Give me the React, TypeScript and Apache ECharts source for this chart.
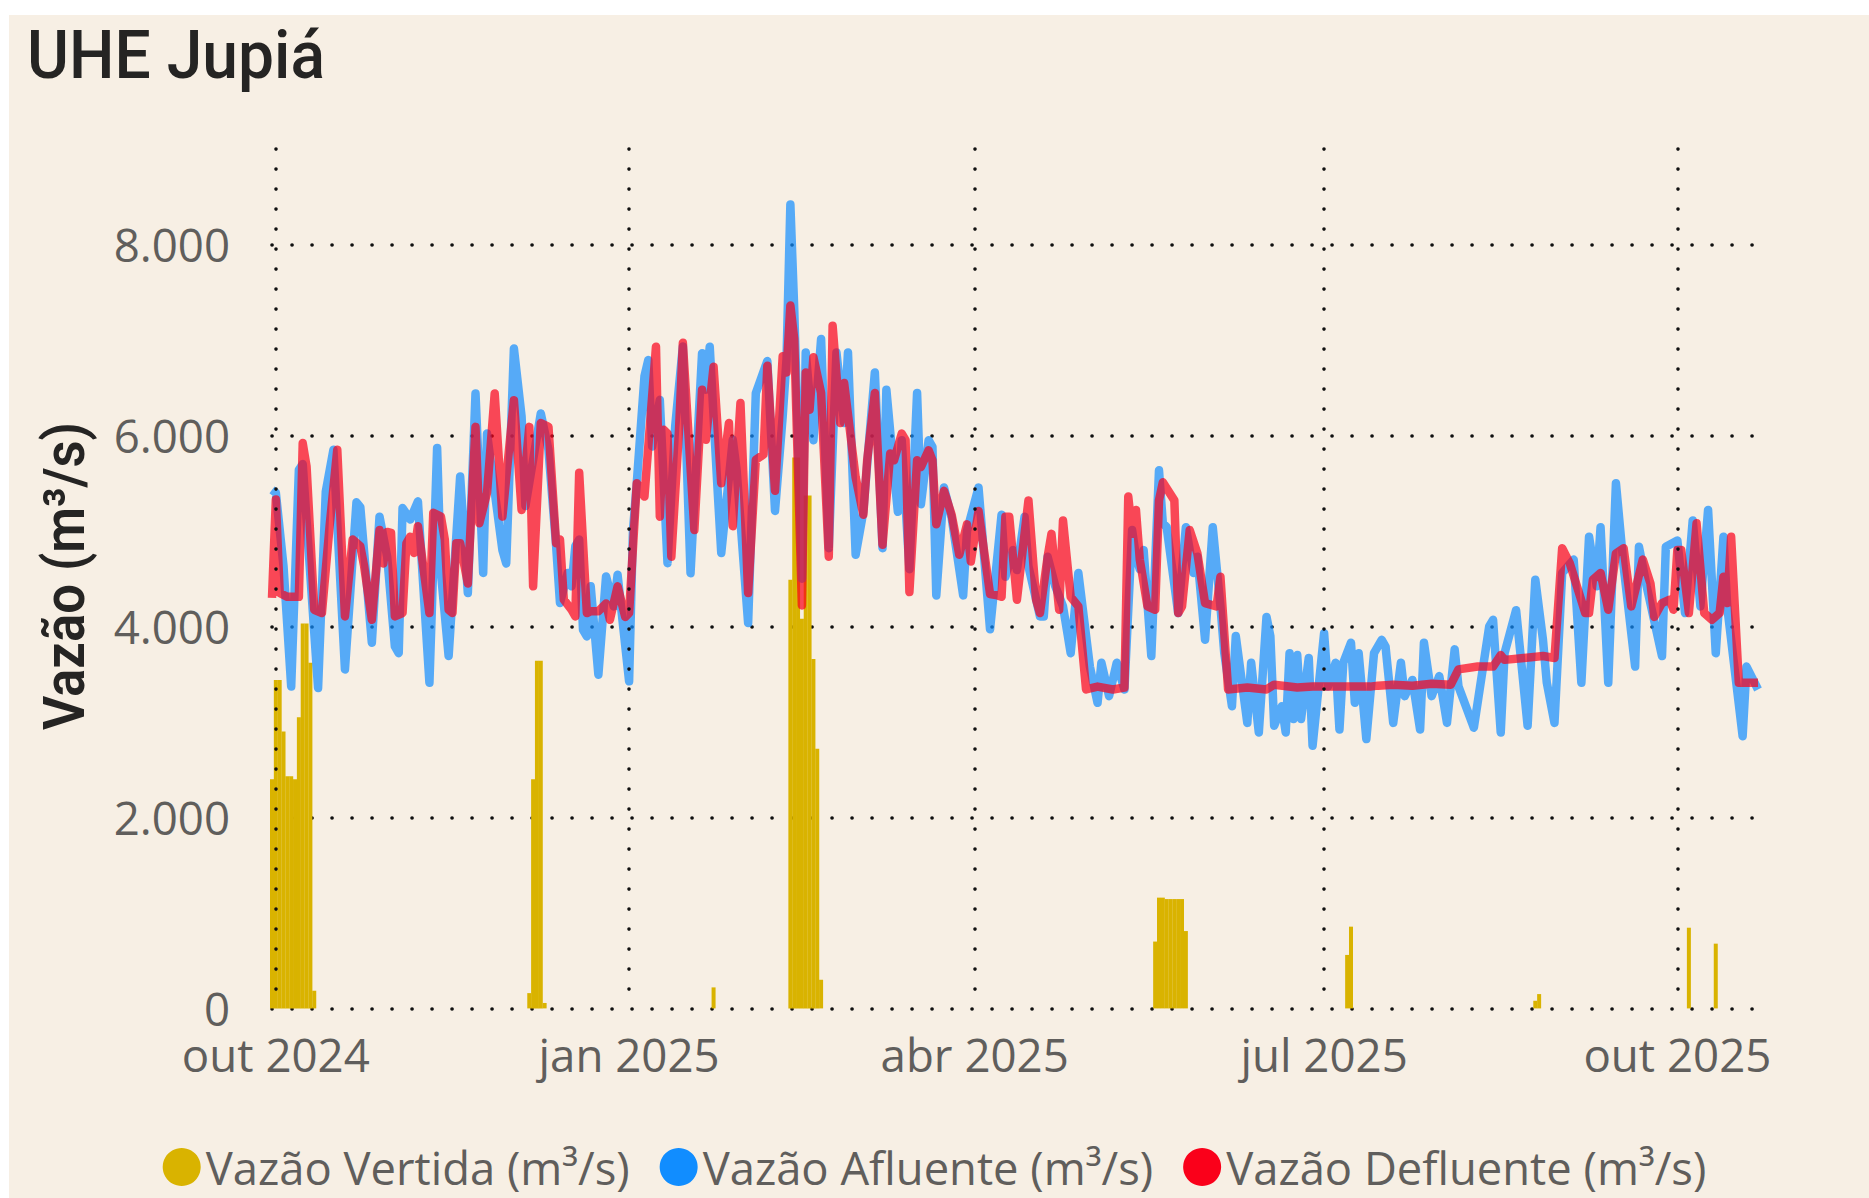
import React, { useEffect, useRef } from 'react';
import * as echarts from 'echarts';

// Day offsets are counted from 2024-10-01 (day 0); -1 is 2024-09-30.
const afluente: [number, number][] = [
  [-1, 5430], [0, 5400], [2, 4630], [4, 3370], [6, 5640], [7, 5700], [11, 3355], [13, 5410], [15, 5850], [18, 3550],
  [21, 5300], [22, 5250], [25, 3830], [27, 5150], [29, 4730], [31, 3790], [32, 3720], [33, 5240], [35, 5120], [37, 5310],
  [40, 3410], [42, 5870], [43, 4560], [45, 3690], [48, 5570], [50, 4350], [52, 6440], [54, 4560], [55, 6020], [59, 4800],
  [60, 4660], [62, 6910], [64, 6200], [65, 5260], [69, 6230], [71, 5850], [73, 4840], [74, 4245], [76, 4560], [77, 4420],
  [78, 4840], [79, 4910], [80, 3965], [81, 3896], [82, 4420], [84, 3495], [86, 4524], [88, 4210], [89, 4541], [92, 3425],
  [93, 5000], [94, 5500], [96, 6620], [97, 6790], [98, 5885], [100, 6373], [102, 4663], [104, 6094], [106, 6932], [108, 4558],
  [111, 6860], [112, 6480], [113, 6930], [115, 5466], [116, 4768], [119, 5955], [120, 5640], [123, 4035], [125, 6443],
  [128, 6780], [130, 5210], [132, 6200], [133, 6800], [134, 8420], [135, 7330], [137, 4500], [138, 6870], [140, 5950],
  [142, 7010], [144, 4820], [146, 6870], [148, 6130], [149, 6870], [151, 4750], [153, 5200], [154, 5700], [156, 6660],
  [158, 4820], [159, 6480], [161, 5600], [162, 5200], [163, 5950], [165, 4600], [167, 6445], [168, 5280], [170, 5950],
  [171, 5880], [172, 4325], [174, 5455], [176, 5140], [179, 4325], [180, 5000], [183, 5455], [186, 3970], [189, 5170],
  [190, 4520], [192, 4800], [193, 4590], [195, 5150], [196, 4630], [199, 4105], [200, 4105], [201, 4730], [203, 4420],
  [205, 4210], [207, 3720], [209, 4560], [212, 3580], [214, 3200], [215, 3620], [217, 3270], [219, 3620], [221, 3340],
  [223, 5010], [224, 4730], [225, 4600], [226, 4800], [228, 3690], [230, 5635], [231, 5080], [232, 5040], [235, 4140],
  [237, 5040], [239, 4560], [240, 4730], [242, 3860], [244, 5040], [246, 4210], [247, 3720], [249, 3165], [250, 3900],
  [253, 2990], [254, 3620], [256, 2890], [258, 4100], [259, 3900], [260, 2960], [262, 3165], [263, 2890], [264, 3720],
  [265, 3030], [266, 3700], [267, 3030], [269, 3670], [270, 2750], [273, 3930], [274, 3370], [276, 3620], [277, 2920],
  [278, 3620], [280, 3830], [281, 3200], [282, 3720], [284, 2820], [286, 3720], [288, 3860], [289, 3790], [291, 2990],
  [293, 3620], [294, 3270], [296, 3440], [298, 2920], [299, 3830], [301, 3270], [303, 3480], [305, 2990], [307, 3760],
  [308, 3370], [312, 2940], [316, 4000], [317, 4070], [319, 2890], [320, 3720], [323, 4170], [326, 2960], [328, 4490],
  [330, 3860], [331, 3410], [333, 2990], [335, 4560], [338, 4700], [340, 3410], [342, 4940], [344, 4420], [345, 5040],
  [347, 3410], [349, 5500], [351, 4630], [354, 3580], [355, 4835], [357, 4420], [361, 3690], [362, 4835], [365, 4900],
  [367, 4140], [369, 5110], [371, 4210], [373, 5220], [375, 3720], [377, 4940], [378, 4200], [382, 2850], [383, 3580],
  [386, 3340],
];

const defluente: [number, number][] = [
  [-1, 4300], [0, 5330], [1, 4350], [3, 4310], [6, 4310], [7, 5920], [8, 5675], [10, 4175], [12, 4140], [14, 5050],
  [16, 5850], [18, 4105], [20, 4910], [22, 4840], [23, 4630], [25, 4070], [27, 5010], [28, 4660], [29, 4990], [30, 4980],
  [31, 4105], [33, 4140], [34, 4870], [35, 4940], [36, 4770], [37, 5050], [40, 4140], [41, 5190], [43, 5150], [44, 4910],
  [45, 4175], [46, 4140], [47, 4870], [48, 4870], [50, 4450], [52, 6090], [53, 5080], [55, 5400], [57, 6440], [59, 5150],
  [62, 6370], [64, 5220], [66, 6090], [67, 4420], [69, 6130], [71, 6090], [73, 4870], [74, 4910], [75, 4280], [77, 4175],
  [78, 4105], [79, 5610], [81, 4140], [82, 4160], [84, 4160], [86, 4240], [87, 4070], [89, 4420], [91, 4100], [92, 4140],
  [94, 5500], [96, 5360], [99, 6930], [100, 5150], [101, 6060], [102, 6020], [103, 4730], [105, 6060], [106, 6970],
  [109, 5010], [111, 6480], [112, 5955], [114, 6720], [116, 5500], [118, 6130], [119, 5050], [121, 6340], [123, 4350],
  [125, 5745], [127, 5800], [128, 6730], [130, 5420], [132, 6830], [133, 6660], [134, 7360], [135, 7010], [137, 4220],
  [138, 6660], [139, 6270], [140, 6820], [142, 6445], [144, 4730], [145, 7150], [147, 6130], [148, 6550], [151, 5560],
  [153, 5170], [154, 5740], [156, 6445], [158, 4855], [160, 5810], [161, 5740], [163, 6020], [164, 5950], [165, 4360],
  [167, 5740], [168, 5670], [170, 5845], [171, 5740], [172, 5070], [174, 5420], [176, 5170], [178, 4750], [180, 5070],
  [181, 4680], [183, 5210], [186, 4340], [188, 4325], [189, 4310], [190, 5150], [191, 5150], [193, 4280], [196, 5320],
  [198, 4280], [199, 4140], [201, 4730], [202, 4970], [204, 4175], [205, 5110], [207, 4310], [209, 4210], [211, 3340],
  [214, 3370], [218, 3340], [221, 3360], [222, 5360], [223, 4970], [224, 5220], [225, 4700], [227, 4210], [229, 4175],
  [230, 5320], [231, 5510], [234, 5320], [235, 4140], [236, 4210], [238, 5010], [240, 4765], [242, 4245], [245, 4210],
  [246, 4520], [248, 3340], [253, 3360], [258, 3340], [260, 3390], [266, 3360], [270, 3370], [285, 3370], [287, 3380],
  [291, 3390], [296, 3380], [301, 3400], [306, 3390], [308, 3550], [313, 3580], [317, 3580], [319, 3700], [320, 3650],
  [325, 3670], [330, 3690], [333, 3670], [335, 4820], [337, 4660], [341, 4140], [342, 4140], [343, 4490], [345, 4560],
  [347, 4175], [349, 4765], [351, 4820], [353, 4210], [356, 4700], [358, 4450], [359, 4100], [361, 4245], [363, 4280],
  [364, 4175], [365, 4800], [366, 4800], [368, 4140], [370, 5080], [372, 4140], [374, 4070], [376, 4140], [377, 4520],
  [378, 4245], [379, 4940], [381, 3410], [386, 3410],
];

const vertida: [number, number][] = [
  [-1, 2400], [0, 3440], [1, 3440], [2, 2900], [3, 2430], [4, 2430], [5, 2400], [6, 3050], [7, 4030], [8, 4030], [9, 3620], [10, 185],
  [66, 160], [67, 2400], [68, 3640], [69, 3640], [70, 57],
  [114, 220],
  [134, 4490], [135, 5770], [136, 5770], [137, 4080], [138, 5370], [139, 5370], [140, 3660], [141, 2720], [142, 300],
  [229, 700], [230, 1160], [231, 1160], [232, 1145], [233, 1145], [234, 1145], [235, 1145], [236, 1145], [237, 810],
  [279, 560], [280, 856],
  [328, 80], [329, 150],
  [368, 845], [375, 678],
];

// Quarter ticks as day offsets from 2024-10-01, with their labels.
const quarterDays = [0, 92, 182, 273, 365];
const quarterLabels = ['out 2024', 'jan 2025', 'abr 2025', 'jul 2025', 'out 2025'];
const firstDay = -1;
const lastDay = 386;
const yMax = 9000;

const fmtThousands = (v: number) => String(Math.round(v)).replace(/\B(?=(\d{3})+(?!\d))/g, '.');

const LABEL_FONT = '"Open Sans", "Noto Sans", sans-serif';
const TITLE_FONT = 'Roboto, "Noto Sans", sans-serif';

function measure(text: string, font: string) {
  const ctx = document.createElement('canvas').getContext('2d');
  if (!ctx) return 0;
  ctx.font = font;
  return ctx.measureText(text).width;
}

function fitSize(text: string, weight: number, family: string, base: number, target: number) {
  const w = measure(text, `${weight} ${base}px ${family}`);
  if (!w) return base;
  const s = (base * target) / w;
  return Math.max(base * 0.8, Math.min(base * 1.2, s));
}

export default function App() {
  const ref = useRef<HTMLDivElement>(null);

  useEffect(() => {
    if (!ref.current) return;
    const chart = echarts.init(ref.current, undefined, { renderer: 'svg' });
    const dotted = { color: '#111', width: 3.6, type: [0.1, 19.9] as number[], cap: 'round' as const };

    const titleText = 'UHE Jupiá';
    const titleW = measure(titleText, `500 66px Roboto`);
    const titleScale = titleW ? 298 / titleW : 1;
    const yTitle = 'Vazão (m³/s)';
    const yTitleW = measure(yTitle, `600 58px Roboto`);
    const yTitleScale = yTitleW ? 308 / yTitleW : 1;

    const labelSize = fitSize('out 2024', 400, LABEL_FONT, 45, 188);
    const legendSize = fitSize('Vazão Vertida (m³/s)', 400, LABEL_FONT, 46, 424);

    chart.setOption({
      animation: false,
      backgroundColor: 'transparent',
      grid: { left: 272, right: 111, top: 149, bottom: 189.6, containLabel: false },
      legend: {
        left: 'center',
        top: 1140,
        padding: 4,
        icon: 'circle',
        itemWidth: 38,
        itemHeight: 38,
        itemGap: 30,
        textStyle: { fontSize: legendSize, lineHeight: 46, color: '#605E5C', fontFamily: LABEL_FONT, fontWeight: 400 },
        data: ['Vazão Vertida (m³/s)', 'Vazão Afluente (m³/s)', 'Vazão Defluente (m³/s)'],
      },
      xAxis: {
        type: 'value',
        min: firstDay,
        max: lastDay,
        axisLine: { show: false },
        axisTick: { show: false, customValues: quarterDays },
        splitLine: { show: false },
        axisLabel: {
          customValues: quarterDays,
          formatter: (v: number) => {
            const i = quarterDays.indexOf(Math.round(v));
            return i >= 0 ? quarterLabels[i] : '';
          },
          fontSize: labelSize,
          color: '#605E5C',
          fontFamily: LABEL_FONT,
          fontWeight: 400,
          margin: 26,
          lineHeight: 40,
          showMinLabel: true,
          showMaxLabel: true,
        },
      },
      yAxis: {
        type: 'value',
        min: 0,
        max: yMax,
        interval: 2000,
        axisLine: { show: false },
        axisTick: { show: false },
        axisLabel: {
          showMaxLabel: false,
          formatter: (v: number) => fmtThousands(v),
          fontSize: labelSize,
          color: '#605E5C',
          fontFamily: LABEL_FONT,
          fontWeight: 400,
          margin: 42,
          lineHeight: 40,
        },
        splitLine: { show: true, showMaxLine: false, lineStyle: dotted },
      },
      graphic: [
        {
          type: 'text',
          x: 27,
          y: 56,
          scaleX: titleScale,
          style: {
            text: titleText,
            fontSize: 66,
            fontWeight: 500,
            fontFamily: TITLE_FONT,
            fill: '#252423',
            align: 'left',
            verticalAlign: 'middle',
          },
        },
        {
          type: 'text',
          x: 65,
          y: 576,
          rotation: Math.PI / 2,
          scaleX: yTitleScale,
          style: {
            text: yTitle,
            fontSize: 58,
            fontWeight: 600,
            fontFamily: TITLE_FONT,
            fill: '#252423',
            align: 'center',
            verticalAlign: 'middle',
          },
        },
      ],
      series: [
        {
          name: 'Vazão Vertida (m³/s)',
          type: 'bar',
          barWidth: 4,
          clip: false,
          itemStyle: { color: '#D9B300' },
          data: vertida,
          markLine: {
            silent: true,
            symbol: 'none',
            label: { show: false },
            lineStyle: dotted,
            emphasis: { disabled: true },
            data: quarterDays.map((d) => [{ coord: [d, yMax] }, { coord: [d, 0] }]),
          },
        },
        {
          name: 'Vazão Afluente (m³/s)',
          type: 'line',
          showSymbol: false,
          symbol: 'none',
          itemStyle: { color: '#118DFF' },
          lineStyle: { color: '#118DFF', width: 8.5, opacity: 0.7, join: 'round' },
          data: afluente,
        },
        {
          name: 'Vazão Defluente (m³/s)',
          type: 'line',
          showSymbol: false,
          symbol: 'none',
          itemStyle: { color: '#FA001A' },
          lineStyle: { color: '#FA001A', width: 8.5, opacity: 0.7, join: 'round' },
          data: defluente,
        },
      ],
    });
    return () => chart.dispose();
  }, []);

  return (
    <div style={{ position: 'fixed', left: 0, top: 0, width: 1869, height: 1198, background: '#FFFFFF' }}>
      <div style={{ position: 'absolute', left: 9, top: 15, right: 0, bottom: 0, background: '#F7EFE4' }} />
      <div ref={ref} style={{ position: 'absolute', left: 0, top: 0, width: 1869, height: 1198 }} />
    </div>
  );
}
